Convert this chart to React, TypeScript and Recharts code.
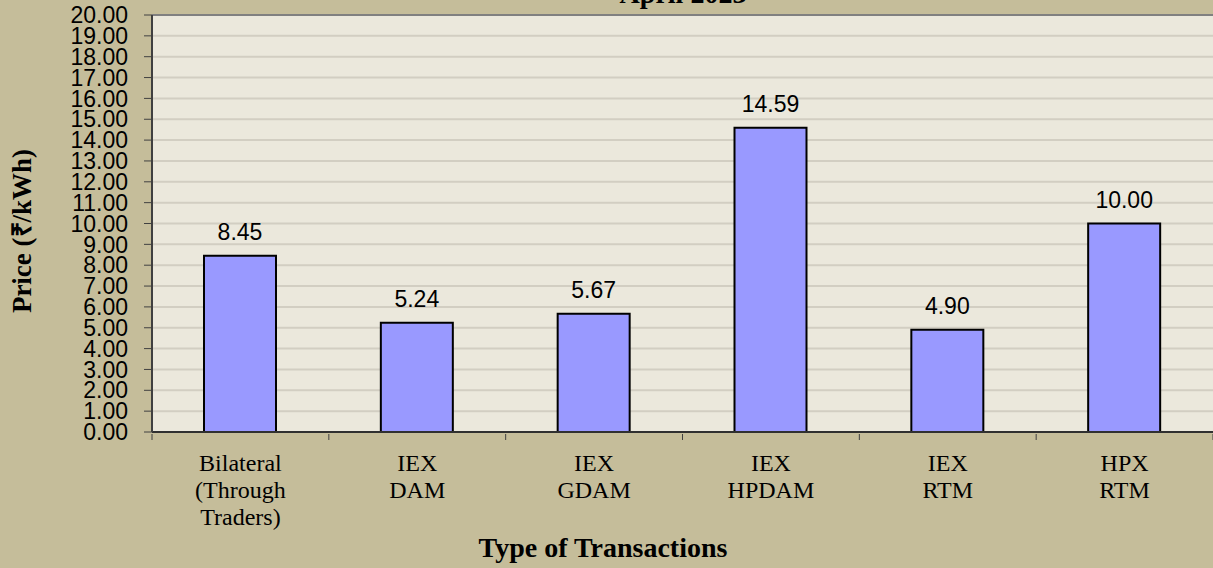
import { BarChart, Bar, XAxis, YAxis, CartesianGrid, LabelList, ReferenceLine, Label } from "recharts"

const categories = ["Bilateral (Through Traders)", "IEX DAM", "IEX GDAM", "IEX HPDAM", "IEX RTM", "HPX RTM"]
const categoryLines = [
    ["Bilateral", "(Through", "Traders)"],
    ["IEX", "DAM"],
    ["IEX", "GDAM"],
    ["IEX", "HPDAM"],
    ["IEX", "RTM"],
    ["HPX", "RTM"],
]
const prices = [8.45, 5.24, 5.67, 14.59, 4.9, 10.0]
const yTicks = [0, 1, 2, 3, 4, 5, 6, 7, 8, 9, 10, 11, 12, 13, 14, 15, 16, 17, 18, 19, 20]

const title = "April 2023"
const xTitle = "Type of Transactions"
const yTitle = "Price (₹/kWh)"

const W = 1213
const H = 568
const LEFT = 152
const TOP = 15
const BOTTOM = 136
const BAND = (W - LEFT) / categories.length

const data = categories.map((c, i) => ({ name: c, price: prices[i], idx: i }))

const serif = "'Liberation Serif', 'Times New Roman', serif"
const sans = "'Liberation Sans', Arial, sans-serif"

function XTick(props: any) {
    const { x, y, payload, index } = props
    const lines = categoryLines[payload.index ?? index] || [payload.value]
    const left = x - BAND / 2
    return (
        <g>
            <line x1={left} y1={y - 6} x2={left} y2={y} stroke="#404040" strokeWidth={1} />
            {index === categories.length - 1 && (
                <line x1={left + BAND} y1={y - 6} x2={left + BAND} y2={y} stroke="#404040" strokeWidth={1} />
            )}
            <text textAnchor="middle" fontFamily={serif} fontSize={24} fill="#000">
                {lines.map((l: string, i: number) => (
                    <tspan key={i} x={x} y={y + 31 + i * 27}>{l}</tspan>
                ))}
            </text>
        </g>
    )
}

export default function App() {
    return (
        <div style={{ position: "absolute", left: 0, top: 0, width: W, height: H, background: "#C5BD9A" }}>
            <BarChart width={W} height={H} data={data} margin={{ top: TOP, right: 0, left: 0, bottom: 0 }} barSize={72}>
                <CartesianGrid vertical={false} fill="#EBE8DC" stroke="#D2CEC2" strokeWidth={2} />
                <XAxis
                    dataKey="name"
                    height={BOTTOM}
                    interval={0}
                    tickLine={false}
                    axisLine={{ stroke: "#303030", strokeWidth: 2 }}
                    tick={<XTick />}
                >
                    <Label
                        content={() => (
                            <g>
                                <text x={603} y={557} textAnchor="middle" fontFamily={serif} fontWeight="bold" fontSize={28} fill="#000">
                                    {xTitle}
                                </text>
                                <text x={683} y={3} textAnchor="middle" fontFamily={serif} fontWeight="bold" fontSize={28} fill="#000">
                                    {title}
                                </text>
                            </g>
                        )}
                    />
                </XAxis>
                <YAxis
                    width={LEFT}
                    domain={[0, 20]}
                    ticks={yTicks}
                    interval={0}
                    tickSize={8}
                    tickMargin={16}
                    tickFormatter={(v: number) => v.toFixed(2)}
                    tick={{ fontSize: 23, fontFamily: sans, fill: "#000" }}
                    tickLine={{ stroke: "#404040" }}
                    axisLine={{ stroke: "#404040", strokeWidth: 2 }}
                >
                    <Label
                        content={() => (
                            <text
                                x={31}
                                y={231}
                                transform="rotate(-90 31 231)"
                                textAnchor="middle"
                                fontFamily={serif}
                                fontWeight="bold"
                                fontSize={27}
                                fill="#000"
                            >
                                {yTitle}
                            </text>
                        )}
                    />
                </YAxis>
                <ReferenceLine y={20} stroke="#808080" strokeWidth={2} />
                <Bar dataKey="price" fill="#9999FF" stroke="#000" strokeWidth={2} isAnimationActive={false}>
                    <LabelList
                        dataKey="price"
                        position="top"
                        offset={16}
                        formatter={(v: any) => Number(v).toFixed(2)}
                        style={{ fontSize: 23, fontFamily: sans, fill: "#000" }}
                    />
                </Bar>
            </BarChart>
        </div>
    )
}
